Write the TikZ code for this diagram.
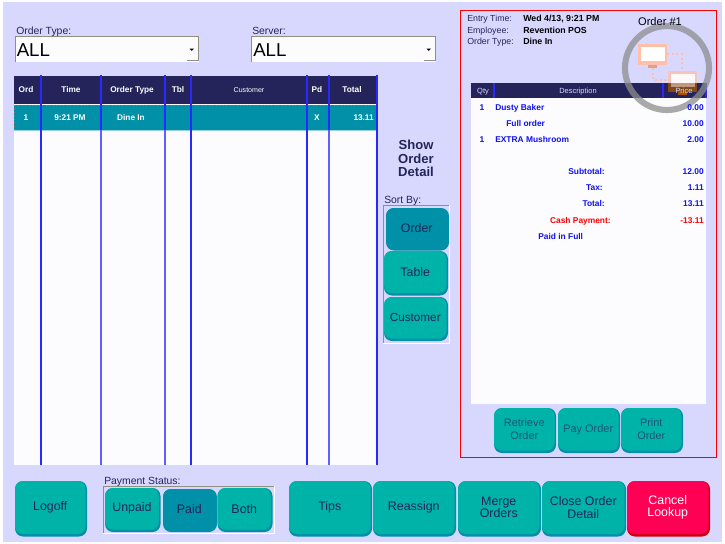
\documentclass[tikz,border=0pt]{standalone}
\usepackage{fontspec}
\setmainfont{Liberation Sans}
\definecolor{pagebg}{HTML}{D8D8FF}
\definecolor{navy}{HTML}{24245A}
\definecolor{teal1}{HTML}{00B3A8}
\definecolor{teal2}{HTML}{0090A8}
\definecolor{dimtext}{HTML}{1F5578}
\definecolor{cancelred}{HTML}{FF0055}
\definecolor{cancelshade}{HTML}{D00010}
\definecolor{gridblue}{HTML}{2828FF}
\definecolor{gridsoft}{HTML}{6060FF}
\definecolor{textblue}{HTML}{1010F0}
\definecolor{bevel}{HTML}{908F80}
\definecolor{paper}{HTML}{FCFCFF}
\definecolor{monitor}{HTML}{FFBFA8}
\definecolor{ringgray}{HTML}{8E8E8E}
\tikzset{
  x=0.75pt,y=-0.75pt,
  btnbody/.style={draw=none,rounded corners=6pt,inner sep=0pt,align=center,
    font=\fontsize{9.3}{9.4}\selectfont},
  headtxt/.style={text=white,inner sep=0pt,text height=4.5pt,text depth=0pt,font=\fontsize{6.2}{7}\bfseries\selectfont},
  headthin/.style={text=white,inner sep=0pt,text height=3.8pt,text depth=0pt,font=\fontsize{5.3}{7}\selectfont},
  detailhead/.style={text=pagebg,inner sep=0pt,text height=4pt,text depth=0pt,font=\fontsize{5.6}{7}\selectfont},
  lbl/.style={text=navy,inner sep=0pt,anchor=west,text height=5.6pt,text depth=0pt,font=\fontsize{7.8}{9}\selectfont},
  combotxt/.style={text=black,inner sep=0pt,anchor=west,text height=10pt,text depth=0pt,font=\fontsize{14}{16}\selectfont},
  infokey/.style={text=navy,inner sep=0pt,anchor=west,text height=4.7pt,text depth=0pt,font=\fontsize{6.6}{8}\selectfont},
  infoval/.style={text=black,inner sep=0pt,anchor=west,text height=4.7pt,text depth=0pt,font=\fontsize{6.6}{8}\bfseries\selectfont},
  itemtxt/.style={text=textblue,inner sep=0pt,text height=4.5pt,text depth=0pt,font=\fontsize{6.3}{8}\bfseries\selectfont},
  gridline/.style={draw=gridblue,line width=0.85pt},
  gridlight/.style={draw=gridsoft,line width=0.85pt},
}
% name, x0, y0, x1, y1, face, shade, text colour, text
\newcommand\btnbox[9]{%
  \fill[#7,rounded corners=6pt] (#2,#3) rectangle (#4,#5);
  \pgfmathsetlengthmacro\bw{(#4-#2-1.5)*0.75pt}%
  \pgfmathsetlengthmacro\bh{(#5-#3-2.5)*0.75pt}%
  \pgfmathsetmacro\bx{(#2+#4-1.5)/2}%
  \pgfmathsetmacro\by{(#3+#5-2.5)/2}%
  \node[btnbody,fill=#6,text=#8,minimum width=\bw,minimum height=\bh] (#1) at (\bx,\by) {#9};
}
\newcommand\smallf{\fontsize{8.2}{9.4}\selectfont}
\begin{document}
\begin{tikzpicture}
\useasboundingbox (0,0) rectangle (725,543);
\fill[white] (0,0) rectangle (725,543);
\fill[pagebg] (3,2) rectangle (722,542);

% combo boxes
\fill[paper] (15,36) rectangle (199,62);
\draw[bevel,line width=0.75pt] (15,62) -- (15,36) -- (198,36) -- (198,60) -- (187,60);
\node[lbl] (ordertypelbl) at (16,30.5) {Order Type:};
\node[combotxt] (ordertypeval) at (16.5,50) {ALL};
\fill[black] (189.5,48.5) -- (194,48.5) -- (191.75,51) -- cycle;
\fill[paper] (251,36) rectangle (436,62);
\draw[bevel,line width=0.75pt] (251,62) -- (251,36) -- (435,36) -- (435,60) -- (424,60);
\node[lbl] (serverlbl) at (252,30.5) {Server:};
\node[combotxt] (serverval) at (253,50) {ALL};
\fill[black] (426.5,48.5) -- (431,48.5) -- (428.75,51) -- cycle;

% main table
\fill[paper] (14,104) rectangle (377,465);
\fill[navy] (14,76) rectangle (377,104);
\fill[teal2] (14,105) rectangle (377,130);
\draw[gray,dotted,line width=0.6pt] (14.5,105) rectangle (376.5,130);
\fill[teal2!40] (14,130) rectangle (377,131);
\draw[gridline] (41,75) -- (41,465);
\draw[gridlight] (101,130) -- (101,465);
\draw[gridline] (101,75) -- (101,130);
\draw[gridlight] (165,130) -- (165,465);
\draw[gridline] (165,75) -- (165,130);
\draw[gridline] (191,75) -- (191,465);
\draw[gridline] (307,75) -- (307,465);
\draw[gridlight] (329,130) -- (329,465);
\draw[gridline] (329,75) -- (329,130);
\draw[gridline] (377,75) -- (377,465);
\node[headtxt] (hord) at (26,89) {Ord};
\node[headtxt] (htime) at (71,89) {Time};
\node[headtxt] (htype) at (132,89) {Order Type};
\node[headtxt] (htbl) at (178,89) {Tbl};
\node[headthin] (hcust) at (249,89.5) {Customer};
\node[headtxt] (hpd) at (317,89) {Pd};
\node[headtxt] (htotal) at (352,89) {Total};
\node[headtxt] (rord) at (26,117) {1};
\node[headtxt] (rtime) at (70,117) {9:21 PM};
\node[headtxt] (rtype) at (131,117) {Dine In};
\node[headtxt] (rpd) at (317,117) {X};
\node[headtxt,anchor=east] (rtotal) at (374,117) {13.11};

% middle column
\node[text=navy,inner sep=0pt,align=center,font=\fontsize{9.8}{10.2}\bfseries\selectfont] (showdetail) at (416,158.5) {Show\\Order\\Detail};
\node[lbl] (sortlbl) at (384,199.5) {Sort By:};
\fill[white] (383,205) rectangle (450,343.5);
\fill[pagebg] (384,206) rectangle (449,342.5);
\draw[bevel,line width=0.75pt] (383,343) -- (383,205) -- (449,205);
\btnbox{bsortorder}{386}{208}{449}{250.5}{teal2}{teal2}{navy}{\raisebox{-0.7pt}{Order}}
\btnbox{bsorttable}{384}{251}{448}{295.5}{teal1}{teal2}{navy}{Table}
\btnbox{bsortcust}{384}{297}{448}{341}{teal1}{teal2}{navy}{\fontsize{8.8}{9.4}\selectfont Customer}

% detail panel
\fill[paper] (471,98) rectangle (706,404);
\fill[navy] (471,83) rectangle (706,98);
\draw[gridline] (494,83) -- (494,98);
\draw[gridline] (663,83) -- (663,98);
\draw[gridline] (706,83) -- (706,98);
\node[detailhead] (dqty) at (483,90.5) {Qty};
\node[detailhead] (ddesc) at (578,90.5) {Description};

% icon
\draw[ringgray,opacity=0.75,line width=4.6pt] (667,68) circle (42);
\draw[monitor,line width=1.5pt,dotted] (667,54) -- (682,54) -- (682,71);
\draw[monitor,line width=1.5pt,dotted] (653,68) -- (653,80) -- (668,80);
\fill[monitor] (638,44) rectangle (667,65);
\fill[white] (641,47) rectangle (664.5,61);
\fill[monitor!85!black] (648,65) rectangle (657,67.5);
\fill[monitor,opacity=.8] (668,71) rectangle (697,83);
\fill[orange!65!black,opacity=.75] (668,83) rectangle (697,92);
\fill[white,opacity=.9] (671,74) rectangle (695,83);
\fill[white,opacity=.45] (671,83) rectangle (695,87);
\fill[orange!65!black] (678,92) rectangle (687,95);
\node[detailhead] (dprice) at (684,90.5) {Price};

\node[text=black,inner sep=0pt,text height=5.9pt,text depth=0pt,font=\fontsize{8.3}{10}\selectfont] (ordernum) at (660,21.5) {Order \#1};
\node[infokey] (ketime) at (467,18) {Entry Time:};
\node[infokey] (keemp) at (467,30) {Employee:};
\node[infokey] (kety) at (467,41) {Order Type:};
\node[infoval] (vetime) at (523,18) {Wed 4/13, 9:21 PM};
\node[infoval] (veemp) at (523,30) {Revention POS};
\node[infoval] (vety) at (523,41) {Dine In};

\node[itemtxt] (q1) at (482,107) {1};
\node[itemtxt,anchor=west] (i1) at (495,107) {Dusty Baker};
\node[itemtxt,anchor=east] (p1) at (704,107) {0.00};
\node[itemtxt,anchor=west] (i2) at (506,123) {Full order};
\node[itemtxt,anchor=east] (p2) at (704,123) {10.00};
\node[itemtxt] (q3) at (482,139) {1};
\node[itemtxt,anchor=west] (i3) at (495,139) {EXTRA Mushroom};
\node[itemtxt,anchor=east] (p3) at (704,139) {2.00};
\node[itemtxt,anchor=east] (lsub) at (605,171) {Subtotal:};
\node[itemtxt,anchor=east] (vsub) at (704,171) {12.00};
\node[itemtxt,anchor=east] (ltax) at (603,187) {Tax:};
\node[itemtxt,anchor=east] (vtax) at (704,187) {1.11};
\node[itemtxt,anchor=east] (ltot) at (605,203) {Total:};
\node[itemtxt,anchor=east] (vtot) at (704,203) {13.11};
\node[itemtxt,anchor=east,text=red] (lcash) at (611,220) {Cash Payment:};
\node[itemtxt,anchor=east,text=red] (vcash) at (704,220) {-13.11};
\node[itemtxt,anchor=west] (lpaid) at (538,236) {Paid in Full};

\btnbox{bretrieve}{494}{408}{556}{453}{teal1}{teal2}{dimtext}{\smallf Retrieve\\\smallf Order}
\btnbox{bpay}{558}{408}{620}{453}{teal1}{teal2}{dimtext}{\smallf Pay Order}
\btnbox{bprint}{621}{408}{683}{453}{teal1}{teal2}{dimtext}{\smallf Print\\\smallf Order}
\draw[red,line width=0.75pt] (460,10) rectangle (716,457);

% bottom bar
\btnbox{blogoff}{15}{481}{87}{536.5}{teal1}{teal2}{navy}{Logoff}
\node[lbl] (paylbl) at (104,480.5) {Payment Status:};
\fill[white] (103,486) rectangle (274.5,533.5);
\fill[pagebg] (104,487) rectangle (273.5,532.5);
\draw[bevel,line width=0.75pt] (103.5,533) -- (103.5,486.5) -- (273.5,486.5);
\btnbox{bunpaid}{105}{488}{160.5}{532}{teal1}{teal2}{navy}{Unpaid}
\btnbox{bpaid}{163}{489}{217}{532}{teal2}{teal2}{navy}{\raisebox{-0.7pt}{Paid}}
\btnbox{bboth}{217.5}{488}{272.5}{532}{teal1}{teal2}{navy}{Both}
\btnbox{btips}{289}{481}{372}{536.5}{teal1}{teal2}{navy}{Tips}
\btnbox{breassign}{373}{481}{456}{536.5}{teal1}{teal2}{navy}{Reassign}
\btnbox{bmerge}{458}{481}{541}{536.5}{teal1}{teal2}{navy}{Merge\\Orders}
\btnbox{bclose}{542}{481}{626}{536.5}{teal1}{teal2}{navy}{Close Order\\Detail}
\btnbox{bcancel}{627}{481}{710}{536.5}{cancelred}{cancelshade}{white}{Cancel\\Lookup}
\end{tikzpicture}
\end{document}
